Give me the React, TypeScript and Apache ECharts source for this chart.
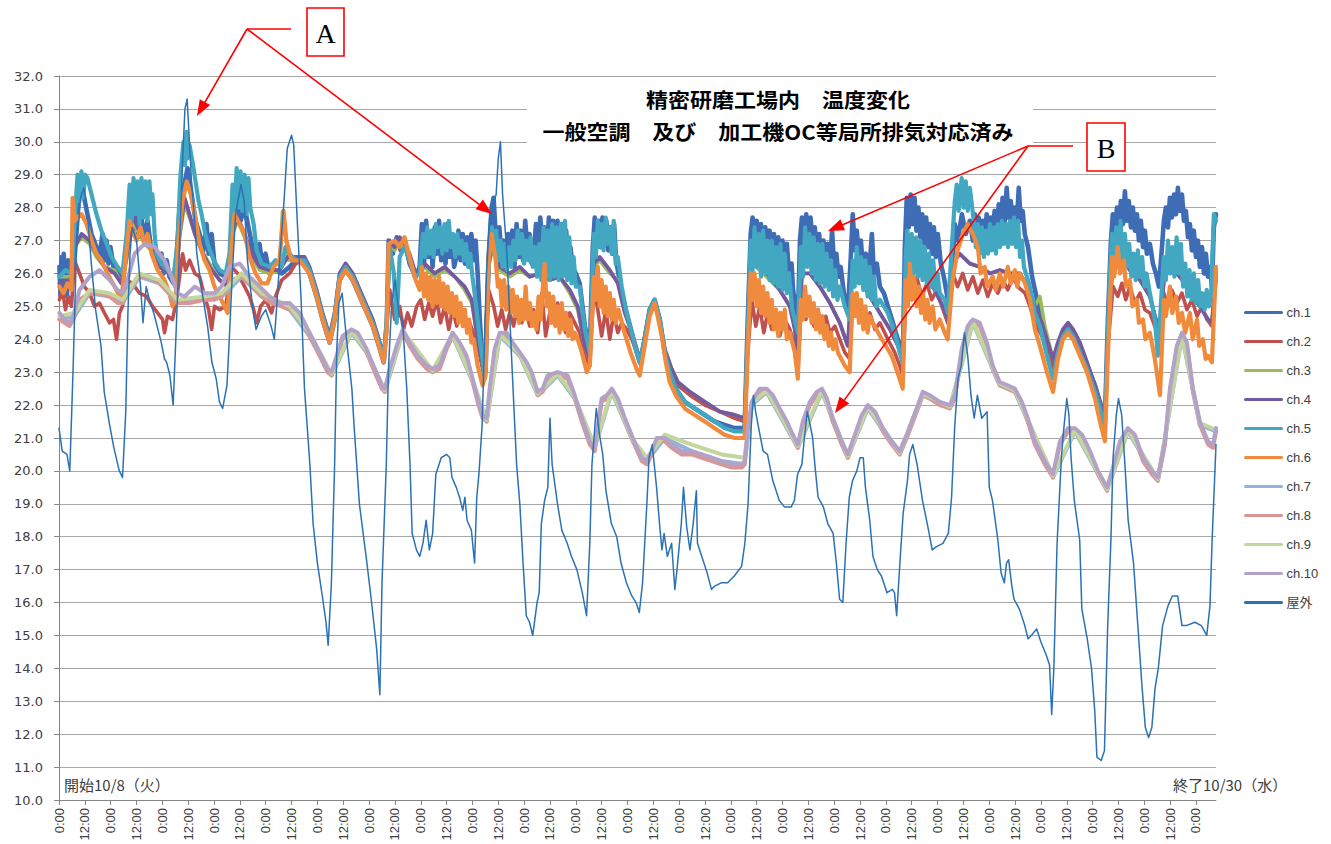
import React, { useEffect, useRef } from "react";
import * as echarts from "echarts";

type P = [number, number];

// ---- series names / colours ----
const seriesNames = ["ch.1", "ch.2", "ch.3", "ch.4", "ch.5", "ch.6", "ch.7", "ch.8", "ch.9", "ch.10", "屋外"];
const seriesColors = ["#3E6CB5", "#C0504D", "#9BBB59", "#7459A0", "#42A7C1", "#F08B3E", "#95B3D7", "#D99694", "#C3D69B", "#B3A2C7", "#2A72B5"];
const seriesWidths = [4.6, 3.6, 3.6, 3.8, 4.2, 4.2, 4, 4, 4, 4, 1.5];

// ---- axis ticks (hours from 10/8 0:00) ----
const hourTicks = Array.from({ length: 45 }, (_, i) => i * 12);
const tickLabels = ["0:00", "12:00"];
const titleLines = ["精密研磨工場内　温度変化", "一般空調　及び　加工機OC等局所排気対応済み"];
const startLabel = "開始10/8（火）";
const endLabel = "終了10/30（水）";

// ---- data: [hour, °C] ----
const ch1: P[] = [[0.2,26.2],[0.7,25.3],[1.2,26.5],[1.7,25.4],[2.2,26.6],[2.7,25.5],[3.2,26.3],[3.7,25.3],[4.2,26.4],[4.7,25.6],[5.2,26.0],[5.8,25.8],
[6.7,26.5],[8.1,27.5],[9.5,28.6],[11.4,28.4],[13.2,27.8],[15.1,27.2],[17.4,26.8],[18.8,26.5],[20.2,27.2],[21.1,26.4],[22.1,27.0],[23,26.3],[23.9,26.8],[25.3,26.2],[27.2,26.0],[29.9,25.9],[31.4,26.8],[32.8,27.8],[34.1,27.2],[35.5,27.9],[36.9,27.1],[38.3,27.7],[39.7,27.0],[41.1,27.6],[42.5,26.9],[43.9,26.6],[45.8,26.2],[47.6,26.6],[48.6,26.0],[50,26.4],[51.3,25.9],[53.2,25.7],[54.6,26.5],[56,28.0],[57.8,28.6],[59.7,29.2],[61.6,28.4],[63.4,27.6],[65.3,27.2],[67.1,26.7],[68.5,27.5],[69.5,26.6],[70.9,27.2],[72.2,26.3],[74.6,26.0],[77.4,25.9],[79.2,26.3],[80.6,27.9],[82.5,28.2],[84.3,27.6],[86.2,28.0],[88,27.4],[89.9,26.8],[91.8,26.4],[93.1,26.9],[94.5,26.2],[95.9,26.6],[97.8,26.0],[100.6,26.1],[103.4,26.0],[107.1,26.2],[109.9,26.4],
[114,26.3],[116.3,26.0],[119.6,25.3],[122.4,24.6],[125.7,23.9],[128,24.6],[130.3,25.8],[133.1,26.1],[136.4,25.8],[141,25.1],[145.7,24.4],[149,23.7],[150.8,23.3],[152.2,24.5],[153.1,27.0],[155,26.6],[156.8,27.1],[158.7,26.7],[160.5,27.0],[162.8,26.3],[165.6,25.9],[167.5,26.2],
[168.5,27.5],[169.5,26.3],[170.5,27.6],[171.5,26.5],[172.5,27.2],[173.5,26.2],[174.5,27.4],[175.5,26.6],[176.5,27.6],[177.5,26.4],[178.5,27.3],[179.5,26.3],[180.5,27.5],[181.5,26.5],[182.5,27.0],[183.5,26.2],[184.5,26.5],[185.5,27.3],[186.5,26.4],[187.5,27.2],[188.5,26.3],[189.5,27.1],[190.5,26.2],[191.5,27.2],[192.5,26.4],[193.5,27.0],[194.5,25.9],[195.5,24.5],[196.8,23.2],[198.1,23.0],[199.5,26.5],[200.9,28.0],[201.8,28.3],[202.8,27.2],[203.8,26.8],
[204.5,27.4],[205.5,26.5],[206.5,27.0],[207.5,26.3],[208.5,27.2],[209.5,26.4],[210.5,27.3],[211.5,26.2],[212.5,27.5],[213.5,26.5],[214.5,27.3],[215.5,26.4],[216.5,27.6],[217.5,26.8],[218.5,27.2],[219.5,26.3],[220.5,26.6],[221.5,27.5],[222.5,26.4],[223.5,27.7],[224.5,26.8],[225.5,27.4],[226.5,26.5],[227.5,27.7],[228.5,26.8],[229.5,27.6],[230.5,26.7],[231.5,27.6],[232.5,26.5],[233.5,27.5],[234.5,26.6],[235.5,27.3],[236.5,26.4],[237.5,26.8],[238.5,26.2],[240,26.0],[241.8,25.7],[244.2,24.4],[246.5,23.7],[247.9,26.8],
[248.8,27.7],[249.7,26.9],[250.6,27.6],[251.5,26.8],[252.4,27.7],[253.3,26.9],[254.2,27.6],[255.1,26.7],[256,27.4],[256.9,26.6],[257.8,27.5],[258.7,26.4],[259.8,26.0],[261.3,25.4],[263.6,24.8],[266,24.2],[268.3,23.6],[269.7,23.3],[272,24.0],[274.3,24.9],[276.6,25.2],[279,24.6],[281.3,23.6],[283.6,23.0],[286.4,22.5],[290.6,22.1],[295.2,21.9],[299.9,21.7],[304.5,21.5],[309.1,21.4],[313.8,21.3],[318.4,21.3],[319.8,24.5],[321.2,27.2],[322.1,27.7],
[323,26.9],[324,27.6],[325,26.8],[326,27.5],[327,26.7],[328,27.4],[329,26.6],[330,27.3],[331,26.5],[332,27.2],[333,26.3],[334,27.1],[335,26.2],[336,27.0],[337,26.1],[338,26.9],[339,26.0],[340.2,26.3],[340.9,25.5],[342.2,24.9],[343.1,24.5],
[344.1,27.0],[345,27.7],[346,26.9],[347,27.8],[348,26.8],[349,27.7],[350,26.9],[351,27.4],[352,26.5],[353,27.2],[354,26.4],[355,27.0],[356,26.3],[357,26.9],[358,26.1],[359,27.3],[360,26.2],[361,26.6],[362,25.9],[363,26.2],[364.5,25.4],[366.3,24.8],
[367.7,26.5],[368.6,27.8],[369.6,26.7],[370.5,27.3],[371.4,26.5],[372.4,27.0],[373.3,26.2],[374.7,26.6],[376.1,25.9],[377.5,27.2],[378.4,26.0],[379.8,26.3],[381.2,25.6],[383.1,25.4],[384.9,25.0],[386.8,24.6],[388.6,24.2],[390.5,23.8],[391.9,23.5],
[392.8,26.8],[393.7,28.3],[394.6,27.4],[395.5,28.4],[396.4,27.5],[397.3,28.3],[398.2,27.3],[399.1,28.0],[400,27.1],[400.9,27.8],[401.8,26.9],[402.7,27.7],[403.6,26.8],[404.5,27.5],[405.4,26.6],[406.3,27.4],[407.2,26.5],[408.1,27.2],[409.5,26.3],[410.9,25.9],[412.8,25.2],[414.6,26.0],
[416,27.5],[417.4,27.0],[419.3,27.8],[421.1,27.2],[423,27.6],[424.4,27.0],[425.3,27.8],[426.2,27.1],[427.1,27.7],[428,26.9],[429,27.6],[429.9,27.0],[430.8,27.8],[431.7,27.1],[432.7,27.7],[433.6,27.2],[434.5,27.9],[435.5,27.3],[436.4,28.1],[437.3,27.4],[438.2,28.3],[439.2,27.6],[440.1,28.6],[441,27.7],[442,28.2],[442.9,27.5],[443.8,28.0],[444.7,27.4],[445.7,28.6],[446.6,27.6],[447.5,27.9],[448.5,27.2],[450,26.8],[451.9,25.9],[454.2,25.2],[456.5,24.6],[458.8,23.9],[461.6,23.2],[463.9,23.8],[466.2,24.2],[468.6,24.4],[470.9,24.2],[474.1,23.8],[477.4,23.2],[481.1,22.6],[483.4,22.1],[485.7,21.5],
[487.1,24.6],[488.5,27.0],[489.4,27.8],[490.3,27.1],[491.3,28.0],[492.2,27.3],[493.1,28.2],[494.1,27.5],[495,28.5],[495.9,27.6],[496.8,28.2],[497.8,27.4],[498.7,28.0],[499.6,27.3],[500.6,27.8],[501.5,27.0],[502.4,27.6],[503.4,26.8],[504.3,27.3],[505.2,26.6],[506.6,26.9],[508,26.3],[509.4,26.0],[510.8,25.6],[512.2,26.8],[513.1,27.6],[514,28.0],[515,27.4],[515.9,28.3],[516.8,27.7],[517.8,28.4],[518.7,27.8],[519.6,28.6],[520.5,27.9],[521.5,28.4],[522.4,27.6],[523.3,27.9],[524.3,27.1],[525.2,27.5],[526.1,26.7],[527,27.3],[528,26.5],[528.9,27.0],[529.8,26.2],[530.8,26.8],[531.7,26.0],[532.6,26.6],[533.6,25.9],[534.5,26.2],[535.4,25.6],[536.3,27.4],[537.3,27.8]];

const ch2: P[] = [[0.2,25.2],[1.6,25.5],[3,24.9],[4.4,25.3],[5.8,25.0],[7.2,26.4],[9.5,26.0],[11.8,25.6],[14.2,25.4],[16.5,25.0],[18.8,25.1],[21.1,24.8],[23.5,24.5],[25.3,24.6],[26.7,24.0],[28.1,24.8],[29.5,25.0],[31.4,25.8],[34.1,25.7],[37.4,25.4],[40.7,25.3],[43.4,25.0],[45.8,24.8],[48.1,24.6],[49,24.2],[50.4,24.7],[52.7,24.6],[54.6,25.2],[57.4,26.6],[58.8,26.1],[60.6,26.4],[63.1,26.0],[65.3,25.9],[67.6,25.3],[69.5,24.9],[70.9,24.3],[72.2,25.0],[74.6,24.9],[77.4,25.0],[80.1,26.2],[83,26.0],[86.2,25.6],[88.5,25.3],[90.4,24.9],[91.8,24.5],[93.6,25.0],[96,25.2],[98.7,24.8],[100.6,25.3],[103.4,25.8],[107.1,26.0],[109.9,26.3],
[114,26.4],[116.3,26.1],[119.6,25.4],[122.4,24.7],[125.7,24.0],[128,24.7],[130.3,25.9],[133.1,26.2],[136.4,25.9],[141,25.2],[145.7,24.5],[149,23.8],[150.8,23.4],[152.2,24.4],[153.6,25.5],[155.9,24.6],[158.2,25.0],[160,24.3],[161.9,24.8],[163.8,24.4],[166.1,25.0],[168,25.2],[169.8,24.6],[171.7,25.1],[173.5,24.7],[175.4,25.2],[177.2,24.5],[179.1,25.0],[181,24.3],[182.8,24.9],[184.7,24.4],[186.5,24.8],[188.4,24.6],[190.7,24.5],[193.1,24.1],[195.4,23.5],[197.7,22.8],[199.5,25.5],[201.9,25.0],[203.7,24.4],[205.6,24.9],[207.4,24.3],[209.3,24.8],[211.1,24.4],[213,25.0],[214.9,24.5],[216.7,24.9],[218.6,24.4],[220.4,24.9],[222.3,24.2],[224.2,25.4],[226,24.1],[227.9,24.8],[229.7,24.5],[231.6,25.1],[233.5,24.5],[235.3,24.2],[237.2,24.8],[239.5,24.5],[241.8,24.2],[244.2,23.5],[246.5,23.2],[248.4,25.6],[250.2,24.9],[252,24.1],[253.9,24.9],[255.8,24.0],[257.6,24.8],[259.5,24.2],[261.3,24.5],[263.6,24.3],[266,24.0],[268.8,23.5],[270.2,23.2],[272,24.0],[274.3,24.8],[276.6,25.1],[279,24.5],[281.3,23.6],[284.5,23.0],[287.4,22.6],[293,22.3],[299.9,22.0],[306.9,21.8],[313.8,21.6],[318.4,21.5],
[319.8,23.5],[321.7,25.2],[323.6,24.4],[325.4,25.0],[327.3,24.2],[329.1,24.8],[331,24.3],[332.9,24.9],[334.7,24.1],[337,24.6],[339.4,24.3],[341.7,23.8],[343.1,23.0],[345,25.3],[346.8,24.6],[348.7,25.1],[350.6,24.4],[352.4,24.9],[354.3,24.3],[356.1,24.7],[358,24.2],[360.3,24.4],[362.6,24.0],[364.9,23.6],[367.2,23.4],[368.6,25.3],[370.9,24.7],[372.8,25.0],[374.7,24.4],[376.6,24.8],[378.9,24.3],[381.2,24.5],[384.9,24.0],[388.1,23.6],[390.4,23.2],[391.8,22.9],[393.7,26.0],[396,25.5],[398.3,25.9],[400.7,25.3],[403,25.7],[405.3,25.2],[407.6,25.5],[410,25.0],[412.7,24.5],[415,26.0],[417.3,25.6],[419.7,26.0],[422,25.5],[424.4,25.9],[426.7,25.4],[429,25.8],[431.3,25.3],[433.6,25.7],[436,25.4],[438.3,25.8],[440.6,25.5],[442.9,25.9],[445.2,25.6],[448.6,25.4],[450.9,25.0],[453.2,24.5],[456.4,24.1],[459.2,23.6],[461.6,23.1],[463.9,23.8],[466.2,24.2],[468.6,24.4],[470.9,24.2],[474.1,23.8],[477.4,23.2],[481.1,22.5],[483.4,21.9],[485.7,21.4],[487.1,23.8],[489.5,25.6],[491.7,25.3],[493.6,25.7],[495.4,25.2],[497.3,25.6],[499.6,25.1],[502,25.4],[504.3,24.9],[506.6,24.8],[509.4,24.3],[511.3,24.0],[513.1,25.4],[515,25.0],[516.8,25.5],[519.1,25.1],[521.5,25.4],[523.8,24.9],[526.1,25.2],[528.5,24.7],[530.8,25.0],[533.1,24.6],[535.4,24.4],[537.3,25.8]];

const ch3: P[] = [[0.2,25.9],[5.8,25.9],[7.2,26.8],[10.5,27.1],[14.2,26.9],[17.4,26.5],[21.1,26.2],[25.8,26.1],[29,25.7],[31.4,26.4],[34.1,27.6],[36.5,27.3],[39.7,26.9],[43,26.7],[46.7,26.2],[51.3,26.0],[54.1,25.6],[56,27.1],[58.3,28.1],[60.6,27.7],[63.1,27.2],[66.2,26.7],[69.9,26.3],[74.6,25.8],[78.3,25.6],[80.6,27.2],[83,27.6],[86.2,27.1],[89.5,26.5],[93.2,26.1],[97.8,26.0],[102.4,26.1],[103.8,27.9],[105.2,27.2],[106.6,26.4],[109.9,26.5],
[114,26.5],[116.3,26.2],[119.6,25.5],[122.4,24.8],[125.7,24.1],[128,24.8],[130.3,26.0],[133.1,26.3],[136.4,26.0],[141,25.3],[145.7,24.6],[149,23.9],[150.8,23.5],[152.2,24.5],[153.6,26.9],[155.9,26.7],[158.2,27.0],[160.5,26.8],[162.8,26.5],[165.6,26.0],[167.5,26.0],[169.8,26.2],[174.4,25.9],[179.1,26.1],[183.8,25.9],[188.4,25.5],[191.7,25.1],[194.4,24.0],[197.7,22.9],[199.5,26.2],[201.4,26.8],[204.7,26.1],[209.3,25.9],[214,26.1],[218.6,25.9],[223.2,26.0],[226,26.3],[227.9,25.8],[232.5,25.9],[237.2,25.4],[240.9,24.9],[244.2,23.8],[246.5,23.4],[248.4,26.2],[251.1,26.4],[255.8,26.0],[259.5,25.8],[262.8,24.8],[266,24.2],[268.8,23.6],[270.2,23.3],[272,24.1],[274.3,24.9],[276.6,25.2],[279,24.6],[281.3,23.7],[284.5,23.1],[287.4,22.7],[293,22.4],[299.9,22.1],[306.9,21.8],[313.8,21.7],[318.4,21.6],
[319.8,24.0],[321.7,26.3],[325.4,26.1],[330,25.8],[334.7,25.5],[339.4,25.0],[341.7,24.3],[343.1,23.5],[345,26.0],[348.7,26.0],[353.3,25.6],[358,25.1],[362.6,24.5],[366.3,23.8],[368.2,25.8],[372,25.8],[376.6,25.3],[381.2,24.8],[385.9,24.3],[390.4,23.7],[391.8,23.3],[393.7,26.3],[397.4,26.3],[402,26.0],[406.7,25.5],[410.4,25.0],[412.7,24.6],[415,26.3],[418.2,26.6],[423,26.3],[427.6,26.2],[432.3,26.0],[436.9,26.1],[441.6,26.0],[446.2,26.0],[449.9,25.6],[453.2,25.0],[455.5,25.3],[457.8,24.4],[461.6,23.4],[463.9,23.9],[466.2,24.3],[468.6,24.5],[470.9,24.3],[474.1,23.9],[477.4,23.3],[481.1,22.6],[483.4,22.0],[485.7,21.5],[487.1,24.0],[489.5,26.5],[492.7,26.6],[497.3,26.1],[502,25.8],[506.6,25.3],[509.4,24.6],[511.3,24.3],[513.1,25.8],[515.9,26.2],[520.5,25.9],[525.2,25.5],[529.8,25.0],[533.6,24.6],[535.4,24.5],[537.3,26.0]];

const ch4: P[] = [[0.2,25.7],[5.8,25.8],[7.2,26.8],[10.5,27.2],[14.2,27.0],[17.4,26.6],[21.1,26.2],[25.8,26.0],[29,25.7],[31.4,26.5],[34.1,27.8],[36.5,27.4],[39.7,27.0],[43,26.8],[46.7,26.2],[51.3,26.0],[54.1,25.7],[56,27.2],[58.3,28.3],[60.6,27.8],[63.1,27.2],[66.2,26.7],[69.9,26.2],[74.6,25.8],[78.3,25.6],[80.6,27.3],[83,27.7],[86.2,27.2],[89.5,26.6],[93.2,26.2],[97.8,26.1],[102.4,26.1],[106.2,26.5],[109.9,26.5],
[114,26.5],[116.3,26.2],[119.6,25.5],[122.4,24.8],[125.7,24.1],[128,24.8],[130.3,26.0],[133.1,26.3],[136.4,26.0],[141,25.3],[145.7,24.6],[149,23.9],[150.8,23.5],[152.2,24.5],[153.6,27.0],[155.9,26.8],[158.2,27.1],[160.5,26.9],[162.8,26.6],[165.6,26.0],[167.5,26.0],[169.8,26.3],[174.4,26.0],[179.1,26.2],[183.8,25.9],[188.4,25.6],[191.7,25.2],[194.4,24.0],[197.7,22.9],[199.5,26.3],[201.4,26.9],[204.7,26.2],[209.3,26.0],[214,26.2],[218.6,25.9],[223.2,26.0],[227.9,25.8],[232.5,25.9],[237.2,25.5],[240.9,25.0],[244.2,23.8],[246.5,23.4],[248.4,26.3],[251.1,26.5],[255.8,26.1],[259.5,25.7],[262.8,24.8],[266,24.2],[268.8,23.6],[270.2,23.3],[272,24.1],[274.3,24.9],[276.6,25.2],[279,24.6],[281.3,23.7],[284.5,23.1],[287.4,22.7],[293,22.4],[299.9,22.1],[306.9,21.8],[313.8,21.7],[318.4,21.6],
[319.8,24.0],[321.7,26.3],[325.4,26.2],[330,25.9],[334.7,25.5],[339.4,25.0],[341.7,24.3],[343.1,23.5],[345,26.0],[348.7,26.0],[353.3,25.6],[358,25.1],[362.6,24.5],[366.3,23.8],[368.2,25.8],[372,25.8],[376.6,25.3],[381.2,24.8],[385.9,24.3],[390.4,23.7],[391.8,23.3],[393.7,26.3],[397.4,26.3],[402,26.0],[406.7,25.5],[410.4,25.0],[412.7,24.6],[415,26.3],[418.2,26.6],[423,26.3],[427.6,26.2],[432.3,26.0],[436.9,26.1],[441.6,26.0],[446.2,26.0],[449.9,25.6],[453.2,25.0],[456.4,24.5],[459.2,23.9],[461.6,23.4],[463.9,23.9],[466.2,24.3],[468.6,24.5],[470.9,24.3],[474.1,23.9],[477.4,23.3],[481.1,22.6],[483.4,22.0],[485.7,21.5],[487.1,24.0],[489.5,26.5],[492.7,26.6],[497.3,26.1],[502,25.8],[506.6,25.3],[509.4,24.6],[511.3,24.3],[513.1,25.8],[515.9,26.2],[520.5,25.9],[525.2,25.5],[529.8,25.0],[533.6,24.6],[535.4,24.5],[537.3,26.0]];

const ch5: P[] = [[0.2,25.9],[3,26.1],[5.8,26.0],[7.2,27.5],[8.6,29.0],[9.5,28.2],[10.4,29.1],[11.3,28.3],[12.2,29.0],[13.2,28.9],[15.1,28.4],[17.4,27.8],[19.7,27.3],[22.1,26.9],[24.4,26.5],[27.2,26.2],[29.5,26.0],[31.4,27.2],[32.8,28.7],[33.7,27.6],[34.6,28.9],[35.5,27.8],[36.5,28.8],[37.4,27.5],[38.3,28.9],[39.2,27.7],[40.2,28.8],[41.1,27.6],[42,28.8],[43,27.8],[43.4,28.4],[44.4,27.2],[45.3,26.6],[47.6,26.3],[50.4,26.1],[53.2,25.9],[55,26.9],[56.4,29.0],[57.8,30.0],[58.5,29.3],[59.2,30.3],[59.9,29.5],[60.6,29.9],[62,29.4],[63.4,28.8],[64.8,28.2],[66.2,27.8],[67.6,27.3],[69,26.9],[71.8,26.4],[74.6,26.1],[77.4,26.0],[79.2,26.6],[80.6,28.7],[81.5,27.8],[82.5,29.2],[83.4,28.0],[84.3,29.1],[85.2,27.9],[86.2,29.0],[87.1,27.8],[88,28.9],[88.8,28.0],[90.4,27.5],[91.8,26.7],[94.1,26.3],[97.8,26.2],[100.6,26.4],[103.4,26.2],[105.2,26.8],[107.1,26.6],[109.9,26.4],
[114,26.4],[116.3,26.1],[119.6,25.4],[122.4,24.7],[125.7,24.0],[128,24.7],[130.3,25.9],[133.1,26.2],[136.4,25.9],[141,25.2],[145.7,24.5],[149,23.8],[150.8,23.4],[152.2,24.6],[153.6,26.8],[155.5,26.0],[156.8,24.5],[158.2,26.5],[160.5,26.8],[162.8,26.4],[165.1,25.9],[167.5,26.0],
[168,26.4],[169,27.2],[170,26.5],[171,27.4],[172,26.6],[173,27.3],[174,26.5],[175,27.5],[176,26.8],[177,27.4],[178,26.6],[179,27.5],[180,26.7],[181,27.6],[182,26.8],[183,27.2],[184,26.5],[185,27.2],[186,26.6],[187,27.0],[188,26.4],[189,26.9],[190,26.2],[191,26.6],[192,25.9],[193,25.4],[195.4,24.0],[197.7,22.9],
[199.1,25.5],[200,26.8],[201,27.4],[202,26.6],[203,27.3],[204,26.4],[205,27.0],[206,26.2],[207,26.9],[208,26.1],[209,26.8],[210,26.2],[211,27.0],[212,26.4],[213,27.3],[214,26.6],[215,27.2],[216,26.3],[217,27.0],[218,26.4],[219,27.1],[220,26.2],[221,26.8],[222,25.9],[223,26.9],[224,25.8],[225,27.4],[226,25.9],[227,27.3],[228,25.8],[229,27.5],[230,25.9],[231,27.4],[232,25.8],[233,27.5],[234,25.9],[235,27.6],[236,25.8],[237,27.1],[238,25.7],[239,26.5],[240,25.6],[241.8,25.6],[244.2,24.3],[246.5,23.6],
[248.4,27.2],[249.3,26.5],[250.2,27.6],[251.1,26.8],[252,27.5],[252.9,26.7],[253.9,27.7],[254.8,26.9],[255.8,27.4],[256.7,26.6],[257.6,27.6],[258.5,26.3],[259.5,26.5],[261.3,25.6],[263.6,24.8],[266,24.2],[268.3,23.6],[269.7,23.3],[272,24.0],[274.3,24.9],[276.6,25.2],[279,24.6],[281.3,23.6],[283.6,23.0],[286.4,22.5],[290.6,22.1],[295.2,21.9],[299.9,21.7],[304.5,21.5],[309.1,21.3],[313.8,21.2],[318.4,21.2],
[319.8,24.0],[321.2,27.0],[322,26.0],[323,27.4],[324,26.2],[325,27.2],[326,25.9],[327,27.3],[328,26.0],[329,27.0],[330,25.8],[331,27.0],[332,25.7],[333,26.8],[334,25.6],[335,26.9],[336,25.5],[337,26.6],[338,25.4],[339,26.0],[340.5,24.9],[341.7,24.6],[343.1,24.2],
[344.5,26.8],[345.5,25.9],[346.5,27.4],[347.5,26.2],[348.5,27.2],[349.5,26.0],[350.5,27.1],[351.5,25.8],[352.5,26.9],[353.5,25.7],[354.5,26.9],[355.5,25.6],[356.5,26.6],[357.5,25.5],[358.5,26.4],[359.5,25.3],[360.5,26.1],[361.5,25.2],[362.6,25.6],[364.9,25.0],[367.2,24.6],
[368.6,26.4],[369.5,25.6],[370.5,26.8],[371.5,25.7],[372.5,26.5],[373.5,25.5],[374.5,26.4],[375.5,25.3],[376.5,26.2],[377.5,25.2],[378.5,25.9],[379.5,25.0],[381.2,25.2],[384.9,24.8],[388.1,24.2],[390.4,23.6],[391.8,23.3],
[393.2,26.5],[394,27.3],[395,26.2],[396,27.2],[397,26.0],[398,27.1],[399,25.9],[400,27.0],[401,25.8],[402,26.8],[403,25.7],[404,26.6],[405,25.6],[406,26.4],[407,25.5],[408,26.0],[409,25.4],[411.3,25.2],[412.7,24.8],
[415,27.2],[416,28.2],[416.9,28.7],[417.8,27.9],[419.2,28.9],[420.1,28.0],[421.1,28.8],[422,27.9],[423,28.6],[424.8,27.6],[425.8,26.8],[426.7,27.5],[427.6,26.6],[428.6,27.4],[429.5,26.5],[430.5,27.3],[431.4,26.6],[432.3,27.5],[433.2,26.7],[434.2,27.4],[435.1,26.6],[436,27.5],[437,26.8],[437.9,27.6],[438.8,26.9],[439.8,27.5],[440.7,26.8],[441.6,27.6],[442.6,26.9],[443.5,27.7],[444.4,26.8],[445.4,27.6],[446.3,26.5],[447.2,27.0],[448.1,26.2],[450.9,25.6],[453.2,24.8],[455.5,24.4],[458.8,23.5],[461.6,22.8],[463.9,23.6],[466.2,24.1],[468.6,24.3],[470.9,24.1],[474.1,23.6],[477.4,23.1],[481.1,22.4],[483.4,21.9],[485.7,21.3],
[487.1,24.2],[488,26.0],[489,27.2],[490,26.2],[491,27.4],[492,26.5],[493,27.6],[494,26.4],[495,27.2],[496,26.2],[497,26.9],[498,25.9],[499,26.6],[500,25.8],[501,26.7],[502,25.9],[503,26.5],[504,25.6],[505,26.0],[506.6,25.4],[508.9,24.6],[510.3,23.5],[512.2,25.6],[513,26.5],[514,25.8],[515,27.0],[516,26.0],[517,26.8],[518,25.9],[519,27.1],[520,26.0],[521,26.9],[522,25.6],[523,26.3],[524,25.3],[525,26.1],[526,25.2],[527,26.0],[528,25.1],[529,25.8],[530,25.0],[531,25.4],[532,24.9],[533,25.5],[534,25.0],[535,25.3],[536.3,27.8],[537.3,27.6]];

const ch6: P[] = [[0.2,25.6],[2.1,25.4],[3.9,25.7],[5.8,25.5],[6.3,28.3],[7.2,27.6],[8.6,27.7],[10.5,27.8],[12.8,27.5],[15.1,27.0],[17.4,26.6],[19.7,26.4],[22.5,26.0],[25.8,25.6],[29,25.2],[30.9,26.4],[32.8,27.6],[34.1,27.3],[36,27.0],[37.9,27.4],[39.7,26.9],[41.1,27.2],[43,26.6],[45.8,26.1],[49,25.8],[51.3,25.4],[52.7,25.0],[54.1,25.2],[55.5,27.0],[57.4,28.2],[59.3,28.8],[61.2,28.4],[63.1,27.8],[65.3,26.9],[67.6,26.4],[69.9,26.1],[72.2,25.6],[74.6,25.3],[76.9,25.0],[78.3,24.8],[79.7,26.5],[81.5,27.8],[83.9,27.5],[86.2,27.2],[88.5,26.5],[91.3,26.0],[94.1,25.7],[96.8,25.7],[99.6,26.2],[102.4,26.4],[104.3,27.9],[105.6,27.0],[108,26.4],[111.7,26.4],
[116.3,26.0],[119.6,25.3],[122.4,24.6],[125.7,23.9],[128,24.6],[130.3,25.8],[133.1,26.1],[136.4,25.8],[141,25.1],[145.7,24.4],[149,23.7],[150.8,23.3],[152.2,24.3],[153.1,26.9],[155.9,27.0],[158.2,26.8],[160.5,27.1],[162.8,26.5],[165.6,25.8],[167.5,25.5],
[168.5,26.2],[169.5,25.3],[170.5,26.0],[171.5,25.2],[172.5,25.9],[173.5,25.0],[174.5,25.8],[175.5,25.1],[176.5,25.9],[177.5,25.0],[178.5,25.7],[179.5,24.9],[180.5,25.6],[181.5,24.8],[182.5,25.4],[183.5,24.7],[184.5,25.3],[185.5,24.5],[186.5,25.1],[187.5,24.4],[188.5,24.9],[189.5,24.2],[190.5,24.6],[191.5,23.9],[192.6,24.0],[194.4,23.2],[196.7,22.6],[198.1,22.9],[199.5,26.4],[200.9,27.2],[202.8,26.4],[203.8,25.6],
[204.7,25.8],[205.7,25.0],[206.7,25.8],[207.7,24.9],[208.7,25.6],[209.7,24.8],[210.7,25.5],[211.7,24.7],[212.7,25.3],[213.7,24.5],[214.7,25.2],[215.7,24.6],[216.7,25.6],[217.7,24.6],[218.7,25.1],[219.7,24.4],[220.7,24.8],[221.7,24.3],[222.7,25.3],[223.7,24.6],[224.6,25.5],[225.5,26.3],[226.5,25.0],[227.5,25.4],[228.5,24.5],[229.5,25.3],[230.5,24.4],[231.5,25.0],[232.5,24.2],[233.5,25.1],[234.5,24.3],[235.5,24.8],[236.5,24.1],[237.5,24.6],[238.5,24.0],[239.5,24.2],[240.9,24.0],[242.8,23.6],[245.1,23.0],[246.5,23.2],
[248.4,25.9],[249.3,25.2],[250.2,26.2],[251.1,25.0],[252,25.8],[252.9,24.8],[253.9,25.6],[254.8,24.7],[255.8,25.4],[256.7,24.6],[257.6,25.2],[258.6,24.5],[259.8,24.9],[262.6,24.2],[265.4,23.6],[268.2,23.1],[269.7,22.9],[272,23.8],[274.3,24.7],[276.6,25.1],[278,24.7],[279.9,24.1],[281.8,23.3],[283.6,22.7],[286.4,22.3],[290.6,21.9],[295.2,21.7],[299.9,21.5],[304.5,21.3],[309.1,21.1],[313.8,21.0],[318.4,21.0],
[319.8,23.5],[321.2,26.0],[322,25.2],[323,26.0],[324,25.0],[325,25.8],[326,24.8],[327,25.6],[328,24.7],[329,25.4],[330,24.5],[331,25.2],[332,24.3],[333,24.9],[334,24.1],[335,24.8],[336,24.3],[337,24.9],[338,24.0],[339.4,24.2],[341.7,23.6],[343.1,22.8],
[344.5,25.2],[345.5,24.6],[346.5,25.6],[347.5,24.7],[348.5,25.3],[349.5,24.5],[350.5,25.1],[351.5,24.3],[352.5,24.9],[353.5,24.2],[354.5,24.7],[355.5,24.0],[356.5,24.4],[357.5,23.8],[358.5,24.2],[359.5,23.7],[360.5,24.0],[361.7,23.6],[364.9,23.2],[367.2,23.0],
[368.6,25.4],[369.5,24.7],[370.5,25.4],[371.5,24.5],[372.5,25.2],[373.5,24.3],[374.5,25.0],[375.5,24.2],[376.5,24.7],[377.9,24.5],[382.1,24.0],[386.7,23.5],[390.4,22.8],[391.8,22.5],
[393.2,25.8],[394.2,25.0],[395.1,26.3],[396.1,25.2],[397.1,25.9],[398.3,25.0],[399.3,25.6],[400.3,24.8],[401.3,25.4],[402.3,24.6],[403.3,25.2],[404.3,24.5],[405.7,25.0],[407,24.3],[409,24.6],[411.3,24.2],[412.7,24.0],
[415,25.8],[417.3,26.7],[419.7,27.2],[422,27.5],[424.4,27.2],[426.7,26.8],[428,26.0],[429.9,26.2],[431,25.6],[433.6,25.9],[435,25.5],[436.9,26.0],[438.5,25.6],[440.6,26.2],[442,25.7],[443.9,26.1],[445,25.6],[446.2,26.0],[448.6,25.7],[450.9,25.2],[453.2,24.3],[455.5,23.8],[458.8,23.0],[461.6,22.4],[463.9,23.4],[466.2,24.0],[468.6,24.2],[470.9,24.0],[474.1,23.5],[477.4,23.0],[481.1,22.2],[483.4,21.5],[485.7,20.9],
[487.1,23.5],[489,26.5],[490,25.9],[491.7,26.8],[492.7,26.0],[494.5,26.4],[495.5,25.6],[497.3,25.8],[498.5,25.0],[500.6,25.2],[501.5,24.5],[503.4,24.6],[504.5,24.0],[506.6,24.2],[508.9,23.4],[511.3,22.3],[513.1,25.2],[514,24.7],[515.9,25.6],[517,24.8],[518.7,25.3],[520,24.5],[521.5,24.8],[523,24.2],[525.2,24.8],[526.5,24.0],[528.5,24.6],[529.5,23.8],[531.2,24.0],[532.5,23.4],[533.6,23.5],[535.4,23.3],[537.3,26.2]];

const ch7: P[] = [[0.2,24.6],[7.2,24.7],[14.2,25.4],[23.5,25.3],[29.5,25.1],[37.4,25.9],[46.7,25.7],[55,25.1],[67.6,25.2],[75.5,25.3],[84.8,25.9],[94.1,25.3],[107.1,24.9],[116.3,24.1],[126.6,22.9],[135.9,24.2],[142.9,23.6],[151.3,22.4],[159.6,24.2],[173.5,23.0],[182.8,24.1],[192.1,22.7],[198.6,21.5],[204.7,24.1],[214,23.5],[222.3,22.3],[231.6,22.9],[239.5,22.2],[248.8,20.7],[256.7,22.4],[266.5,20.9],[273,20.3],[281.3,21.0],[293.8,20.6],[307.7,20.3],[318.4,20.2],[321.7,22.0],[328.6,22.4],[343.1,20.7],[354.3,22.4],[366.3,20.4],[375.6,21.9],[390.4,20.5],[401.1,22.3],[413.7,21.9],[424.4,24.5],[436.9,22.6],[443.9,22.4],[461.6,19.8],[471.8,21.2],[486.7,19.4],[496.4,21.2],[510.3,19.7],[521.5,24.1],[529.8,21.4],[537.3,21.2]];

const ch8: P[] = [[0.2,24.6],[4.9,24.4],[6.7,24.6],[9.5,25.2],[14.2,25.4],[18.8,25.4],[23.5,25.3],[27.2,25.1],[29.5,25.1],[32.8,25.6],[37.4,25.9],[42,25.9],[46.7,25.7],[51.3,25.4],[55,25.1],[60.6,25.1],[67.6,25.2],[72.2,25.2],[75.5,25.3],[80.1,25.8],[84.8,25.9],[89.5,25.6],[94.1,25.3],[98.7,25.1],[103.4,25.0],[107.1,24.9],[111.7,24.7],[116.3,24.1],[121,23.5],[124.7,23.0],[126.6,22.9],[128.9,23.4],[131.7,24.0],[135.9,24.2],[138.7,24.1],[142.9,23.6],[146.6,23.0],[149.9,22.5],[151.3,22.4],[153.6,23.0],[156.8,23.7],[159.6,24.2],[162.8,23.8],[166.6,23.4],[170.8,23.1],[173.5,23.0],[176.8,23.1],[180,23.7],[182.8,24.1],[186.1,23.8],[189.3,23.4],[192.1,22.7],[194.4,22.1],[196.7,21.6],[198.6,21.5],[200,22.4],[202.3,23.6],[204.7,24.1],[207.9,24.1],[210.7,23.8],[214,23.5],[217.2,23.2],[219.5,22.9],[222.3,22.3],[224.6,22.4],[226.9,22.8],[231.6,22.9],[236.2,22.8],[239.5,22.2],[242.8,21.5],[246.5,20.8],[248.8,20.6],[252,22.1],[254.4,22.2],[256.7,22.4],[259.5,22.1],[262.8,21.5],[266.5,20.9],[270.6,20.3],[273,20.2],[275.3,20.5],[277.6,20.9],[281.3,20.9],[284.5,20.7],[289.2,20.5],[293.8,20.5],[298.5,20.4],[303.1,20.3],[307.7,20.2],[312.4,20.1],[317,20.1],[318.4,20.2],[319.8,21.1],[321.7,22.0],[325.4,22.4],[328.6,22.4],[331.5,22.2],[334.7,21.8],[338,21.4],[340.8,21.0],[343.1,20.7],[345.4,21.4],[348.7,22.0],[351.9,22.3],[354.3,22.4],[356.6,22.1],[359.3,21.5],[363.5,20.8],[366.3,20.4],[369.6,21.0],[372.8,21.6],[375.6,21.9],[378.9,21.7],[382.6,21.2],[386.8,20.8],[390.4,20.5],[393.7,21.0],[398.3,21.8],[401.1,22.3],[404.4,22.2],[409,22.0],[413.7,21.9],[416,22.2],[419.2,23.6],[422,24.3],[424.4,24.5],[427.6,24.4],[430.9,23.8],[433.6,23.1],[436.9,22.6],[440.6,22.5],[443.9,22.4],[447.1,22.0],[449.9,21.5],[453.2,20.8],[457.8,20.2],[461.6,19.8],[464.8,20.8],[468.6,21.2],[471.8,21.2],[475.1,21.0],[478.8,20.5],[482.5,19.9],[486.7,19.4],[489,19.9],[492.7,20.8],[496.4,21.2],[499.6,21.0],[503.4,20.3],[507.5,19.9],[510.3,19.7],[513.6,20.8],[515.9,22.4],[519.1,23.7],[521.5,24.1],[523.8,23.8],[526.6,22.4],[529.8,21.4],[533.6,20.8],[535.9,20.7],[537.3,21.2]];

const ch9: P[] = [[0.2,24.7],[7.2,24.8],[14.2,25.5],[23.5,25.4],[29.5,25.2],[37.4,26.0],[46.7,25.8],[55,25.2],[67.6,25.3],[75.5,25.4],[84.8,26.0],[94.1,25.4],[107.1,25.0],[116.3,24.2],[126.6,22.95],[135.9,24.25],[142.9,23.65],[151.3,22.45],[159.6,24.25],[173.5,23.05],[182.8,24.15],[192.1,22.75],[198.6,21.55],[204.7,24.15],[214,23.55],[222.3,22.35],[231.6,22.95],[239.5,22.25],[248.8,20.75],[256.7,22.45],[266.5,20.95],[273,20.4],[281.3,21.1],[293.8,20.8],[307.7,20.5],[318.4,20.4],[321.7,22.05],[328.6,22.45],[343.1,20.75],[354.3,22.45],[366.3,20.45],[375.6,21.95],[390.4,20.55],[401.1,22.35],[413.7,21.95],[424.4,24.55],[436.9,22.65],[443.9,22.45],[461.6,19.85],[471.8,21.25],[486.7,19.45],[496.4,21.25],[510.3,19.75],[521.5,24.15],[529.8,21.45],[537.3,21.25]];

const ch10: P[] = [[0.2,24.8],[2.6,24.6],[4.9,24.5],[6.7,24.7],[9.5,25.5],[14.2,25.9],[18.8,26.1],[23.5,25.8],[27.2,25.5],[29.5,25.4],[31.8,25.8],[35.1,26.6],[39.7,26.9],[44.4,26.8],[49,26.4],[52.3,25.9],[55,25.4],[58.3,25.3],[63.1,25.6],[67.6,25.4],[72.2,25.4],[75.5,25.6],[79.2,26.2],[83.9,26.3],[88.5,25.9],[93.2,25.6],[97.8,25.3],[102.4,25.1],[107.1,25.1],[111.7,24.8],[116.3,24.2],[121,23.6],[124.7,23.1],[126.6,23.0],[128.9,23.5],[131.7,24.1],[135.9,24.3],[138.7,24.2],[142.9,23.7],[146.6,23.1],[149.9,22.6],[151.3,22.5],[153.6,23.1],[156.8,23.8],[159.6,24.3],[162.8,23.9],[166.6,23.5],[170.8,23.2],[173.5,23.1],[176.8,23.2],[180,23.8],[182.8,24.2],[186.1,23.9],[189.3,23.5],[192.1,22.8],[194.4,22.2],[196.7,21.7],[198.6,21.6],[200,22.5],[202.3,23.7],[204.7,24.2],[207.9,24.2],[210.7,23.9],[214,23.6],[217.2,23.3],[219.5,23.0],[222.3,22.4],[224.6,22.5],[226.9,22.9],[231.6,23.0],[236.2,22.9],[239.5,22.3],[242.8,21.6],[246.5,20.9],[248.8,20.7],[252,22.2],[254.4,22.3],[256.7,22.5],[259.5,22.2],[262.8,21.6],[266.5,21.0],[270.6,20.4],[273,20.3],[275.3,20.6],[277.6,21.0],[281.3,21.0],[284.5,20.8],[289.2,20.6],[293.8,20.6],[298.5,20.5],[303.1,20.4],[307.7,20.3],[312.4,20.2],[317,20.2],[318.4,20.3],[319.8,21.2],[321.7,22.1],[325.4,22.5],[328.6,22.5],[331.5,22.3],[334.7,21.9],[338,21.5],[340.8,21.1],[343.1,20.8],[345.4,21.5],[348.7,22.1],[351.9,22.4],[354.3,22.5],[356.6,22.2],[359.3,21.6],[363.5,20.9],[366.3,20.5],[369.6,21.1],[372.8,21.7],[375.6,22.0],[378.9,21.8],[382.6,21.3],[386.8,20.9],[390.4,20.6],[393.7,21.1],[398.3,21.9],[401.1,22.4],[404.4,22.3],[409,22.1],[413.7,22.0],[416,22.3],[419.2,23.7],[422,24.4],[424.4,24.6],[427.6,24.5],[430.9,23.9],[433.6,23.2],[436.9,22.7],[440.6,22.6],[443.9,22.5],[447.1,22.1],[449.9,21.6],[453.2,20.9],[457.8,20.3],[461.6,19.9],[464.8,20.9],[468.6,21.3],[471.8,21.3],[475.1,21.1],[478.8,20.6],[482.5,20.0],[486.7,19.5],[489,20.0],[492.7,20.9],[496.4,21.3],[499.6,21.1],[503.4,20.4],[507.5,20.0],[510.3,19.8],[513.6,20.9],[515.9,22.5],[519.1,23.8],[521.5,24.2],[523.8,23.9],[526.6,22.5],[529.8,21.5],[533.6,20.9],[535.9,20.8],[537.3,21.3]];

const outdoor: P[] = [[0,21.3],[1.5,20.6],[3.7,20.5],[5,20.0],[6.5,23.0],[8,26.5],[10,28.3],[11.5,28.6],[13,28.0],[15,26.3],[17,24.9],[19.5,23.8],[21,22.4],[23.5,21.4],[25.5,20.7],[28,20.0],[29.5,19.8],[31,21.8],[32,24.8],[33,26.6],[34,27.4],[36,27.0],[38,25.5],[39,24.5],[40.5,25.6],[42,25.2],[44,24.8],[47.5,23.9],[49,23.4],[50,23.3],[51.5,22.9],[53,22.0],[54.5,24.4],[56,26.9],[57.5,29.6],[58.5,31.0],[59.5,31.3],[60.5,30.1],[61.5,28.8],[63,27.6],[64,26.6],[66.5,25.4],[69,24.4],[71,23.3],[73,22.8],[74.5,22.1],[76,21.9],[78,22.6],[79,23.9],[80.5,26.0],[82,27.8],[84.5,28.7],[86,28.2],[87.5,26.4],[90,24.9],[91.5,24.3],[94,24.7],[96,24.9],[98.5,24.4],[100,24.0],[101,24.9],[103,26.9],[104.5,28.2],[106,29.8],[108,30.2],[109,29.9],[110.5,27.8],[112.5,25.1],[114,22.5],[116.5,20.2],[118,18.4],[120,17.2],[122.5,16.1],[124,15.4],[125,14.7],[126.5,16.6],[128,20.2],[129,23.7],[130,25.1],[131.5,25.4],[132.5,24.7],[134,23.7],[136,22.5],[137,21.4],[139.5,19.0],[143,17.2],[145,16.1],[147.5,14.6],[149,13.2],[150,16.6],[152,20.2],[153,23.1],[154.5,25.1],[156,25.8],[157,25.3],[158,24.7],[159.5,24.6],[161.5,22.5],[163,20.2],[164,18.1],[166,17.6],[167.5,17.4],[169,17.8],[170.5,18.5],[172,17.6],[173.5,18.1],[175,19.9],[177.5,20.4],[180,20.5],[181.5,20.4],[182.5,19.8],[184.5,19.5],[186,19.2],[187.5,18.8],[188.5,19.2],[189.5,18.5],[191.5,18.2],[193,17.2],[194,19.2],[195,19.9],[196.5,21.4],[197.5,23.7],[198.5,26.0],[200,27.7],[201.5,28.1],[203,28.4],[204,29.5],[205,30.0],[206,28.4],[208,26.6],[210,23.7],[212.5,20.2],[214,19.0],[215.5,17.2],[217,15.6],[218.5,15.4],[220,15.0],[222,16.0],[223,16.3],[224,18.4],[225.5,19.1],[227,19.5],[228,21.6],[229,20.2],[231.5,19.0],[233.5,18.2],[236,17.8],[238,17.4],[240.5,17.0],[243,16.3],[245,15.6],[246.5,17.8],[247.5,20.2],[249.5,21.9],[251,21.1],[252.5,20.5],[254,19.4],[256.5,18.4],[259,18.0],[261,17.2],[263.5,16.6],[266,16.2],[268,16.0],[269.5,15.7],[271,16.6],[273,19.0],[274,20.4],[275.5,20.8],[277.5,19.5],[279,18.3],[280,17.6],[281,18.1],[282.5,17.4],[284.5,17.8],[286,16.4],[287,17.0],[289,18.4],[290,19.5],[291.5,18.3],[293,17.6],[294.5,18.4],[296,19.4],[296.5,17.8],[298.5,17.4],[300,17.1],[301,16.9],[303,16.4],[304.5,16.5],[307.5,16.6],[310.5,16.6],[313.5,16.8],[317,17.1],[318.5,17.8],[320,19.0],[321.5,21.4],[322.5,22.3],[323.5,21.8],[325.5,21.1],[327,20.6],[329,20.5],[331.5,19.7],[334.5,19.1],[337,18.9],[340,18.9],[341.5,19.1],[343,19.9],[345,20.2],[346,20.9],[347.5,21.8],[348.5,21.5],[350,21.0],[351,20.2],[352.5,19.2],[355,18.9],[357,18.4],[359.5,18.1],[361,17.2],[362.5,16.1],[364,16.0],[365.5,17.8],[367,19.2],[368.5,19.7],[370.5,20.0],[372,20.4],[373.5,20.4],[374.5,19.5],[376.5,18.5],[378,17.4],[380,17.0],[382,16.8],[384.5,16.3],[387,16.4],[388,16.3],[389,15.6],[390.5,17.2],[392,18.7],[394,19.7],[395,20.5],[396.5,20.8],[398.5,20.2],[401,19.1],[403.5,18.3],[405.5,17.6],[407.5,17.7],[410.5,17.8],[413,18.1],[414.5,19.2],[416,21.4],[417.5,22.8],[419,23.2],[420.5,24.2],[422,23.5],[423.5,22.3],[425,21.6],[426.5,22.3],[428.5,21.6],[431,21.8],[432,19.5],[433.5,19.1],[436,17.9],[437.5,16.9],[439,16.6],[440,17.2],[441,17.3],[442.5,16.5],[443.5,16.1],[446,15.8],[448.5,15.3],[450,14.9],[451.5,15.0],[454,15.2],[456,14.8],[458.5,14.4],[460,14.1],[461,12.6],[462,14.0],[463.5,17.8],[465.5,20.4],[466.5,21.2],[468,22.2],[469,21.7],[470,20.4],[471.5,19.1],[474,17.9],[475,15.8],[477.5,14.9],[479.5,14.0],[481,12.7],[482,11.3],[484,11.2],[485.5,11.5],[487,15.3],[488.5,17.9],[489.5,20.4],[491,21.7],[492,22.2],[493.5,21.7],[495,20.2],[496.5,18.5],[499,17.2],[501,15.3],[503,13.4],[504.5,12.2],[506,11.9],[507.5,12.2],[509,13.4],[510.5,14.0],[512.5,15.3],[515,15.9],[517,16.2],[519.5,16.2],[521.5,15.3],[523.5,15.3],[527.5,15.4],[530.5,15.3],[533,15.0],[534.5,15.9],[535.5,17.9],[537.3,20.8]];

const seriesData: P[][] = [ch1, ch2, ch3, ch4, ch5, ch6, ch7, ch8, ch9, ch10, outdoor];

// ---- annotation helpers ----
const RED = "#FF0000";
function arrow(x1: number, y1: number, x2: number, y2: number) {
  const dx = x2 - x1, dy = y2 - y1;
  const len = Math.sqrt(dx * dx + dy * dy);
  const ux = dx / len, uy = dy / len;
  const L = 16, W = 6;
  const bx = x2 - ux * L, by = y2 - uy * L;
  const px = -uy, py = ux;
  return [
    { type: "line", z: 200, shape: { x1, y1, x2: bx + ux * 2, y2: by + uy * 2 }, style: { stroke: RED, lineWidth: 1.6 } },
    { type: "polygon", z: 200, shape: { points: [[x2, y2], [bx + px * W, by + py * W], [bx - px * W, by - py * W]] }, style: { fill: RED } },
  ];
}

export default function App() {
  const ref = useRef<HTMLDivElement>(null);
  useEffect(() => {
    document.body.style.margin = "0";
    document.body.style.overflow = "hidden";
    const chart = echarts.init(ref.current!, null, { renderer: "svg" });
    const sansFont = "'Liberation Sans', 'Noto Sans CJK JP', sans-serif";
    const jpFont = "'Noto Sans CJK JP', sans-serif";
    const serifFont = "'Liberation Serif', 'DejaVu Serif', serif";

    const labelFmt = (v: number) => {
      const r = Math.round(v);
      if (Math.abs(v - r) > 1e-6) return "";
      if (r % 24 === 0) return tickLabels[0];
      if (r % 12 === 0) return tickLabels[1];
      return "";
    };

    const graphics: any[] = [
      { type: "rect", z: 150, shape: { x: 527, y: 86, width: 506, height: 66 }, style: { fill: "#ffffff" } },
      { type: "text", z: 151, x: 778, y: 99, scaleX: 1.1, style: { text: titleLines[0], fill: "#000", font: `bold 20px ${jpFont}`, textAlign: "center", align: "center", textVerticalAlign: "middle", verticalAlign: "middle" } },
      { type: "text", z: 151, x: 778, y: 131, scaleX: 1.1, style: { text: titleLines[1], fill: "#000", font: `bold 20px ${jpFont}`, textAlign: "center", align: "center", textVerticalAlign: "middle", verticalAlign: "middle" } },
      { type: "text", z: 151, x: 64, y: 784, style: { text: startLabel, fill: "#404040", font: `15px ${jpFont}`, textAlign: "left", align: "left", textVerticalAlign: "middle", verticalAlign: "middle" } },
      { type: "text", z: 151, x: 1173, y: 784, style: { text: endLabel, fill: "#404040", font: `15px ${jpFont}`, textAlign: "left", align: "left", textVerticalAlign: "middle", verticalAlign: "middle" } },
      // annotation A
      { type: "line", z: 200, shape: { x1: 247, y1: 29, x2: 291, y2: 29 }, style: { stroke: RED, lineWidth: 1.6 } },
      ...arrow(247, 29, 197, 116),
      ...arrow(247, 29, 492, 214),
      { type: "rect", z: 200, shape: { x: 307, y: 8, width: 37, height: 48 }, style: { fill: "#fff", stroke: RED, lineWidth: 1.6 } },
      { type: "text", z: 201, x: 325.5, y: 33, style: { text: "A", fill: "#000", font: `28px ${serifFont}`, textAlign: "center", align: "center", textVerticalAlign: "middle", verticalAlign: "middle" } },
      // annotation B
      { type: "line", z: 200, shape: { x1: 1028, y1: 146, x2: 1073, y2: 146 }, style: { stroke: RED, lineWidth: 1.6 } },
      ...arrow(1028, 146, 828, 231),
      ...arrow(1028, 146, 835, 413),
      { type: "rect", z: 200, shape: { x: 1087, y: 123, width: 38, height: 48 }, style: { fill: "#fff", stroke: RED, lineWidth: 1.6 } },
      { type: "text", z: 201, x: 1106, y: 148, style: { text: "B", fill: "#000", font: `28px ${serifFont}`, textAlign: "center", align: "center", textVerticalAlign: "middle", verticalAlign: "middle" } },
    ];

    const option: any = {
      animation: false,
      backgroundColor: "#ffffff",
      grid: { left: 59, right: 115, top: 76, bottom: 44, containLabel: false },
      xAxis: {
        type: "value",
        min: 0,
        max: 537.3,
        interval: 12,
        axisLine: { show: true, lineStyle: { color: "#868686", width: 1 } },
        axisTick: { show: true, length: 5, lineStyle: { color: "#868686" }, customValues: hourTicks },
        axisLabel: { rotate: 90, fontSize: 13, color: "#404040", margin: 8, fontFamily: sansFont, formatter: labelFmt, customValues: hourTicks },
        splitLine: { show: false },
      },
      yAxis: {
        type: "value",
        min: 10,
        max: 32,
        interval: 1,
        axisLine: { show: true, lineStyle: { color: "#868686", width: 1 } },
        axisTick: { show: true, length: 5, lineStyle: { color: "#868686" } },
        axisLabel: { fontSize: 13, color: "#404040", margin: 16, fontFamily: "'DejaVu Sans', sans-serif", formatter: (v: number) => v.toFixed(1) },
        splitLine: { show: true, lineStyle: { color: "#A6A6A6", width: 1 } },
      },
      legend: {
        orient: "vertical",
        left: 1239,
        top: 301,
        itemWidth: 36,
        itemHeight: 14,
        itemGap: 16,
        data: seriesNames,
        itemStyle: { opacity: 0, borderWidth: 0 },
        lineStyle: { width: 3 },
        textStyle: { fontSize: 13, color: "#404040", fontFamily: sansFont },
        selectedMode: false,
      },
      series: seriesNames.map((name, i) => ({
        name,
        type: "line",
        data: seriesData[i],
        showSymbol: false,
        symbol: "none",
        silent: true,
        lineStyle: { color: seriesColors[i], width: seriesWidths[i], join: "round", cap: "round" },
        itemStyle: { color: seriesColors[i] },
        z: 2,
      })),
      graphic: { elements: graphics },
    };
    chart.setOption(option);
    return () => chart.dispose();
  }, []);
  return <div ref={ref} style={{ width: 1331, height: 844 }} />;
}
